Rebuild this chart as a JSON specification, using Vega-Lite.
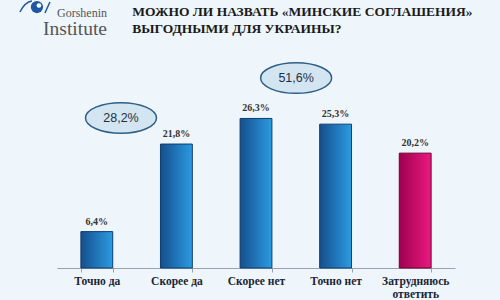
{
  "$schema": "https://vega.github.io/schema/vega-lite/v6.json",
  "autosize": {"type": "none"},
  "width": 398,
  "height": 199,
  "padding": {"left": 57, "top": 69, "right": 45, "bottom": 32},
  "background": "#eef5fb",
  "config": {"view": {"stroke": null}},
  "datasets": {
    "bars": [
      {"category": "Точно да", "value": 6.4, "label": "6,4%", "kind": "yes"},
      {"category": "Скорее да", "value": 21.8, "label": "21,8%", "kind": "yes"},
      {"category": "Скорее нет", "value": 26.3, "label": "26,3%", "kind": "no"},
      {"category": "Точно нет", "value": 25.3, "label": "25,3%", "kind": "no"},
      {"category": "Затрудняюсь ответить", "value": 20.2, "label": "20,2%", "kind": "dk"}
    ]
  },
  "encoding": {
    "x": {
      "field": "category",
      "type": "nominal",
      "sort": null,
      "scale": {"paddingInner": 0.6, "paddingOuter": 0.3},
      "axis": {
        "title": null,
        "labelAngle": 0,
        "labelFont": "Liberation Serif",
        "labelFontWeight": "bold",
        "labelFontSize": 11.5,
        "labelColor": "#1c2533",
        "labelPadding": 3,
        "labelLineHeight": 13,
        "labelExpr": "datum.label == 'Затрудняюсь ответить' ? ['Затрудняюсь', 'ответить'] : datum.label",
        "domainColor": "#9aa3ab",
        "tickColor": "#9aa3ab",
        "tickSize": 4,
        "tickBand": "extent"
      }
    }
  },
  "layer": [
    {
      "data": {"name": "bars"},
      "transform": [{"filter": "datum.kind != 'dk'"}],
      "mark": {
        "type": "bar",
        "stroke": "#0f3d6e",
        "strokeWidth": 1,
        "color": {"gradient": "linear", "x1": 0, "y1": 0, "x2": 1, "y2": 0,
          "stops": [{"offset": 0, "color": "#154f8c"}, {"offset": 1, "color": "#2b9be3"}]}
      },
      "encoding": {
        "y": {"field": "value", "type": "quantitative", "scale": {"domain": [0, 35]}, "axis": null}
      }
    },
    {
      "data": {"name": "bars"},
      "transform": [{"filter": "datum.kind == 'dk'"}],
      "mark": {
        "type": "bar",
        "stroke": "#6d0036",
        "strokeWidth": 1,
        "color": {"gradient": "linear", "x1": 0, "y1": 0, "x2": 1, "y2": 0,
          "stops": [{"offset": 0, "color": "#9e0050"}, {"offset": 1, "color": "#ea1a7e"}]}
      },
      "encoding": {
        "y": {"field": "value", "type": "quantitative", "scale": {"domain": [0, 35]}, "axis": null}
      }
    },
    {
      "data": {"name": "bars"},
      "mark": {"type": "text", "dy": -5, "baseline": "bottom", "font": "Liberation Serif", "fontWeight": "bold", "fontSize": 10, "color": "#333333"},
      "encoding": {
        "y": {"field": "value", "type": "quantitative"},
        "text": {"field": "label"}
      }
    },
    {
      "data": {"values": [{"category": "Точно да", "y": 26.4, "label": "28,2%"}]},
      "layer": [
        {
          "mark": {"type": "point", "shape": "M-1,0A1,0.43,0,1,0,1,0A1,0.43,0,1,0,-1,0Z", "size": 5041, "filled": true, "fill": "#d3e5f1", "stroke": "#2f5f86", "strokeWidth": 1.5, "opacity": 1},
          "encoding": {"y": {"field": "y", "type": "quantitative"}}
        },
        {
          "mark": {"type": "text", "font": "Liberation Sans", "fontSize": 12.5, "color": "#1f2f45", "baseline": "middle"},
          "encoding": {"y": {"field": "y", "type": "quantitative"}, "text": {"field": "label"}}
        }
      ],
      "encoding": {"x": {"field": "category", "type": "nominal", "sort": null, "bandPosition": 1.26}}
    },
    {
      "data": {"values": [{"category": "Скорее нет", "y": 33.4, "label": "51,6%"}]},
      "layer": [
        {
          "mark": {"type": "point", "shape": "M-1,0A1,0.43,0,1,0,1,0A1,0.43,0,1,0,-1,0Z", "size": 5041, "filled": true, "fill": "#d3e5f1", "stroke": "#2f5f86", "strokeWidth": 1.5, "opacity": 1},
          "encoding": {"y": {"field": "y", "type": "quantitative"}}
        },
        {
          "mark": {"type": "text", "font": "Liberation Sans", "fontSize": 12.5, "color": "#1f2f45", "baseline": "middle"},
          "encoding": {"y": {"field": "y", "type": "quantitative"}, "text": {"field": "label"}}
        }
      ],
      "encoding": {"x": {"field": "category", "type": "nominal", "sort": null, "bandPosition": 1.76}}
    },
    {
      "data": {"values": [
        {"category": "Точно да", "y": 44.32, "text": "МОЖНО ЛИ НАЗВАТЬ «МИНСКИЕ СОГЛАШЕНИЯ»"},
        {"category": "Точно да", "y": 41.33, "text": "ВЫГОДНЫМИ ДЛЯ УКРАИНЫ?"}
      ]},
      "mark": {"type": "text", "align": "left", "baseline": "alphabetic", "font": "Liberation Serif", "fontWeight": "bold", "fontSize": 13.5, "color": "#1a1a1a"},
      "encoding": {
        "x": {"field": "category", "type": "nominal", "sort": null, "bandPosition": 1.61},
        "y": {"field": "y", "type": "quantitative"},
        "text": {"field": "text"}
      }
    },
    {
      "data": {"values": [{"category": "Точно да", "y": 44.1, "text": "Gorshenin"}]},
      "mark": {"type": "text", "align": "right", "baseline": "alphabetic", "font": "Liberation Serif", "fontSize": 12, "color": "#555555"},
      "encoding": {
        "x": {"field": "category", "type": "nominal", "sort": null, "bandPosition": 0.82},
        "y": {"field": "y", "type": "quantitative"},
        "text": {"field": "text"}
      }
    },
    {
      "data": {"values": [{"category": "Точно да", "y": 41.0, "text": "Institute"}]},
      "mark": {"type": "text", "align": "right", "baseline": "alphabetic", "font": "Liberation Serif", "fontSize": 19.5, "color": "#555555"},
      "encoding": {
        "x": {"field": "category", "type": "nominal", "sort": null, "bandPosition": 0.82},
        "y": {"field": "y", "type": "quantitative"},
        "text": {"field": "text"}
      }
    },
    {
      "data": {"values": [{"category": "Точно да", "y": 45.9}]},
      "layer": [
        {"mark": {"type": "point", "shape": "circle", "size": 150, "filled": true, "color": "#1f57a3", "opacity": 1}},
        {"mark": {"type": "point", "shape": "circle", "size": 22, "filled": true, "color": "#ffffff", "opacity": 1, "xOffset": 2, "yOffset": -1.5}},
        {"mark": {"type": "point", "shape": "M-17,5Q-12,-5,-5,-6M8,6L13,-5", "size": 4, "filled": false, "stroke": "#1f57a3", "strokeWidth": 1.5, "opacity": 1}}
      ],
      "encoding": {
        "x": {"field": "category", "type": "nominal", "sort": null, "bandPosition": -1.38},
        "y": {"field": "y", "type": "quantitative"}
      }
    }
  ]
}
